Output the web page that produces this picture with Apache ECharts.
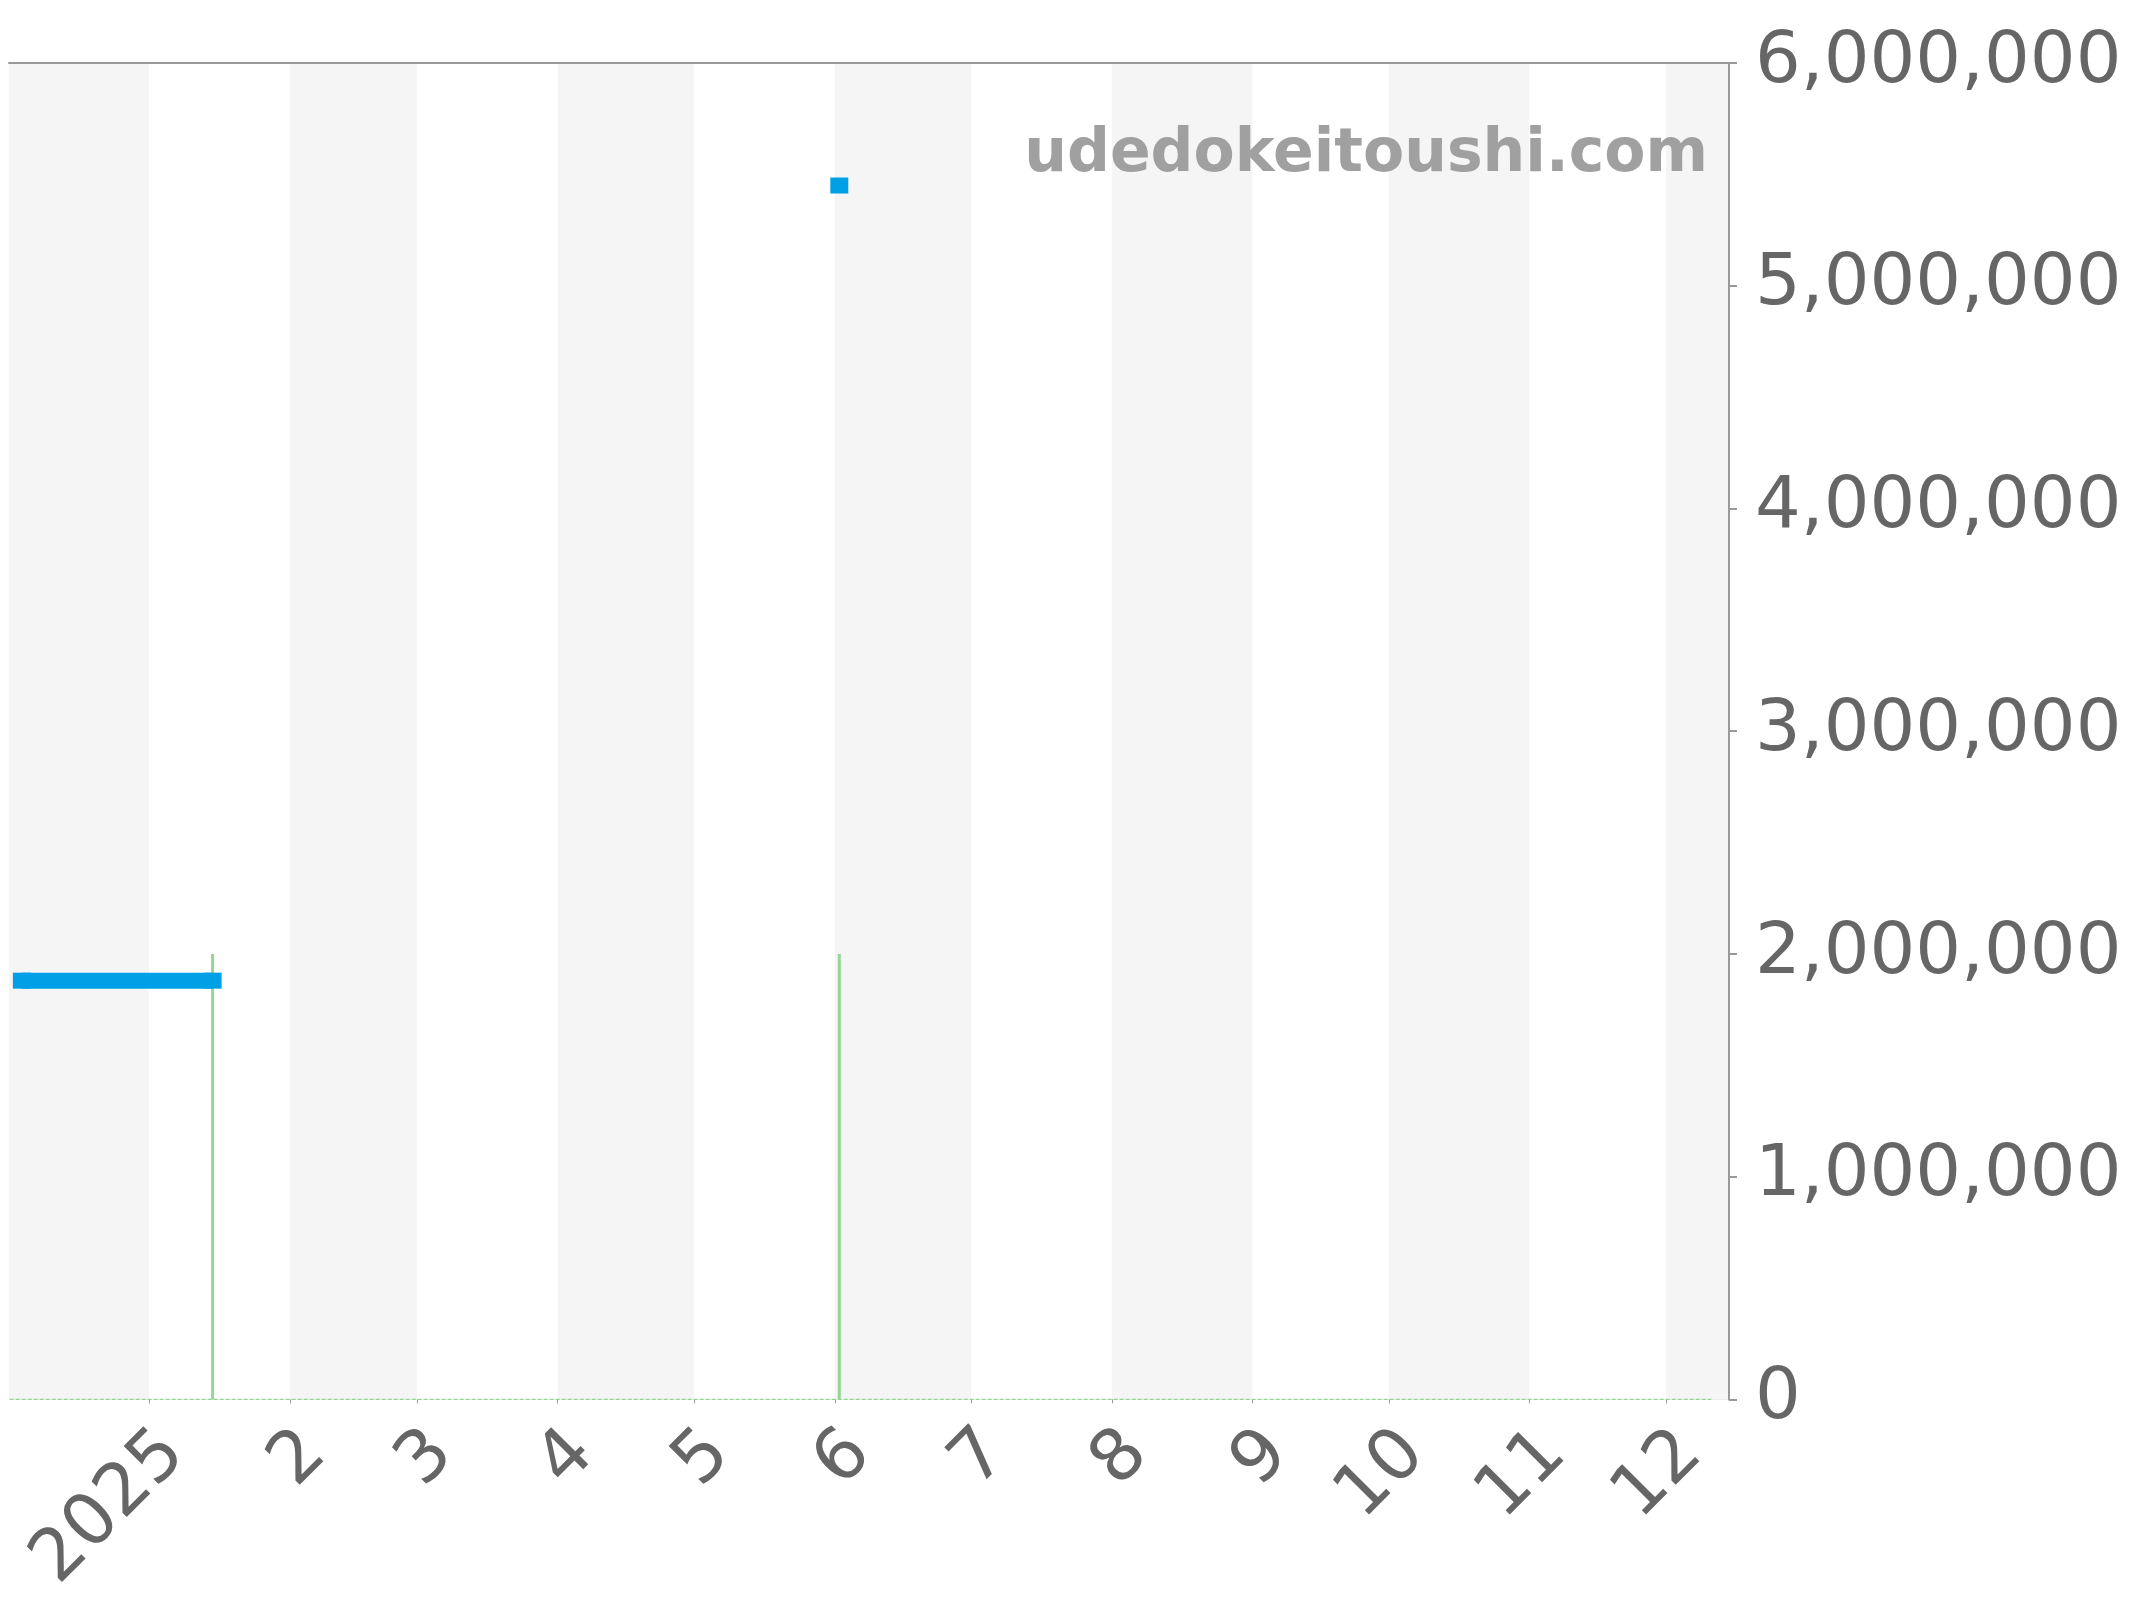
<!DOCTYPE html>
<html>
<head>
<meta charset="utf-8">
<script src="https://cdn.jsdelivr.net/npm/echarts@6/dist/echarts.min.js"></script>
<style>
html,body{margin:0;padding:0;background:#fff;}
#chart{width:2144px;height:1600px;}
</style>
</head>
<body>
<div id="chart"></div>
<script>
// ---- data ----
const axisStart = '2024-12-01T12:00:00';
const axisEnd = '2025-12-14T14:00:00';
const yTicks = [0, 1000000, 2000000, 3000000, 4000000, 5000000, 6000000];

// blue price series (null = gap)
const priceDates = ['2024-12-04', '2025-01-15', '2025-01-16', '2025-06-02'];
const priceValues = [1880000, 1880000, null, 5450000];

// green event spikes
const eventDates = ['2025-01-15', '2025-06-02'];
const eventValues = [2000000, 2000000];

// green zero baseline
const baseDates = ['2024-11-30', '2025-12-11'];
const baseValues = [0, 0];

const watermark = 'udedokeitoushi.com';

// ---- chart ----
const chart = echarts.init(document.getElementById('chart'), null, {renderer: 'canvas'});
const FONT = 'DejaVu Sans';
const DAY = 86400000;

const option = {
  animation: false,
  backgroundColor: '#ffffff',
  textStyle: {fontFamily: FONT},
  grid: {left: 9, right: 415, top: 63, bottom: 195, containLabel: false},
  xAxis: [
    {
      type: 'time',
      position: 'bottom',
      min: axisStart,
      max: axisEnd,
      splitNumber: 12,
      minInterval: 28 * DAY,
      maxInterval: 31 * DAY,
      axisLine: {show: false},
      axisTick: {show: true, length: 4, lineStyle: {color: '#999999', width: 1}},
      splitLine: {show: false},
      splitArea: {show: true, areaStyle: {color: ['#f5f5f5', '#ffffff']}},
      axisLabel: {
        show: true,
        rotate: 45,
        align: 'right',
        verticalAlign: 'top',
        margin: 18,
        fontSize: 72,
        fontFamily: FONT,
        color: '#666666',
        showMinLabel: false,
        showMaxLabel: false,
        hideOverlap: false,
        formatter: function (value) {
          const d = new Date(value);
          if (d.getDate() !== 1 || d.getHours() !== 0) return '';
          return d.getMonth() === 0 ? String(d.getFullYear()) : String(d.getMonth() + 1);
        }
      }
    },
    {
      type: 'time',
      position: 'top',
      min: axisStart,
      max: axisEnd,
      axisLine: {show: true, lineStyle: {color: '#999999', width: 2}},
      axisTick: {show: false},
      axisLabel: {show: false},
      splitLine: {show: false},
      splitArea: {show: false}
    }
  ],
  yAxis: {
    type: 'value',
    position: 'right',
    min: yTicks[0],
    max: yTicks[yTicks.length - 1],
    interval: yTicks[1] - yTicks[0],
    axisLine: {show: true, lineStyle: {color: '#999999', width: 2}},
    axisTick: {show: true, length: 8, lineStyle: {color: '#999999', width: 2}},
    splitLine: {show: true, lineStyle: {color: '#e6e6e6', width: 1}},
    axisLabel: {
      margin: 26,
      fontSize: 72,
      fontFamily: FONT,
      color: '#666666',
      padding: [12, 0, 0, 0],
      formatter: function (v) { return v.toLocaleString('en-US'); }
    }
  },
  graphic: [
    {
      type: 'text',
      right: 2144 - 1708,
      top: 125,
      z: 100,
      style: {
        text: watermark,
        font: 'bold 60px "DejaVu Sans"',
        fill: '#a0a0a0'
      }
    }
  ],
  series: [
    {
      name: 'baseline',
      type: 'line',
      data: baseDates.map((d, i) => [d, baseValues[i]]),
      showSymbol: false,
      symbol: 'none',
      lineStyle: {color: '#8fd68f', width: 1.2, type: [4, 2]},
      z: 1
    },
    {
      name: 'events',
      type: 'bar',
      data: eventDates.map((d, i) => [d, eventValues[i]]),
      barWidth: 3,
      itemStyle: {color: '#94d694'},
      z: 2
    },
    {
      name: 'price',
      type: 'line',
      data: priceDates.map((d, i) => [d, priceValues[i] === null ? '-' : priceValues[i]]),
      connectNulls: false,
      showSymbol: true,
      symbol: 'rect',
      symbolSize: [18, 16],
      lineStyle: {color: '#00a0e6', width: 16, cap: 'butt'},
      itemStyle: {color: '#00a0e6', borderWidth: 0},
      z: 3
    }
  ]
};
chart.setOption(option);
</script>
</body>
</html>
